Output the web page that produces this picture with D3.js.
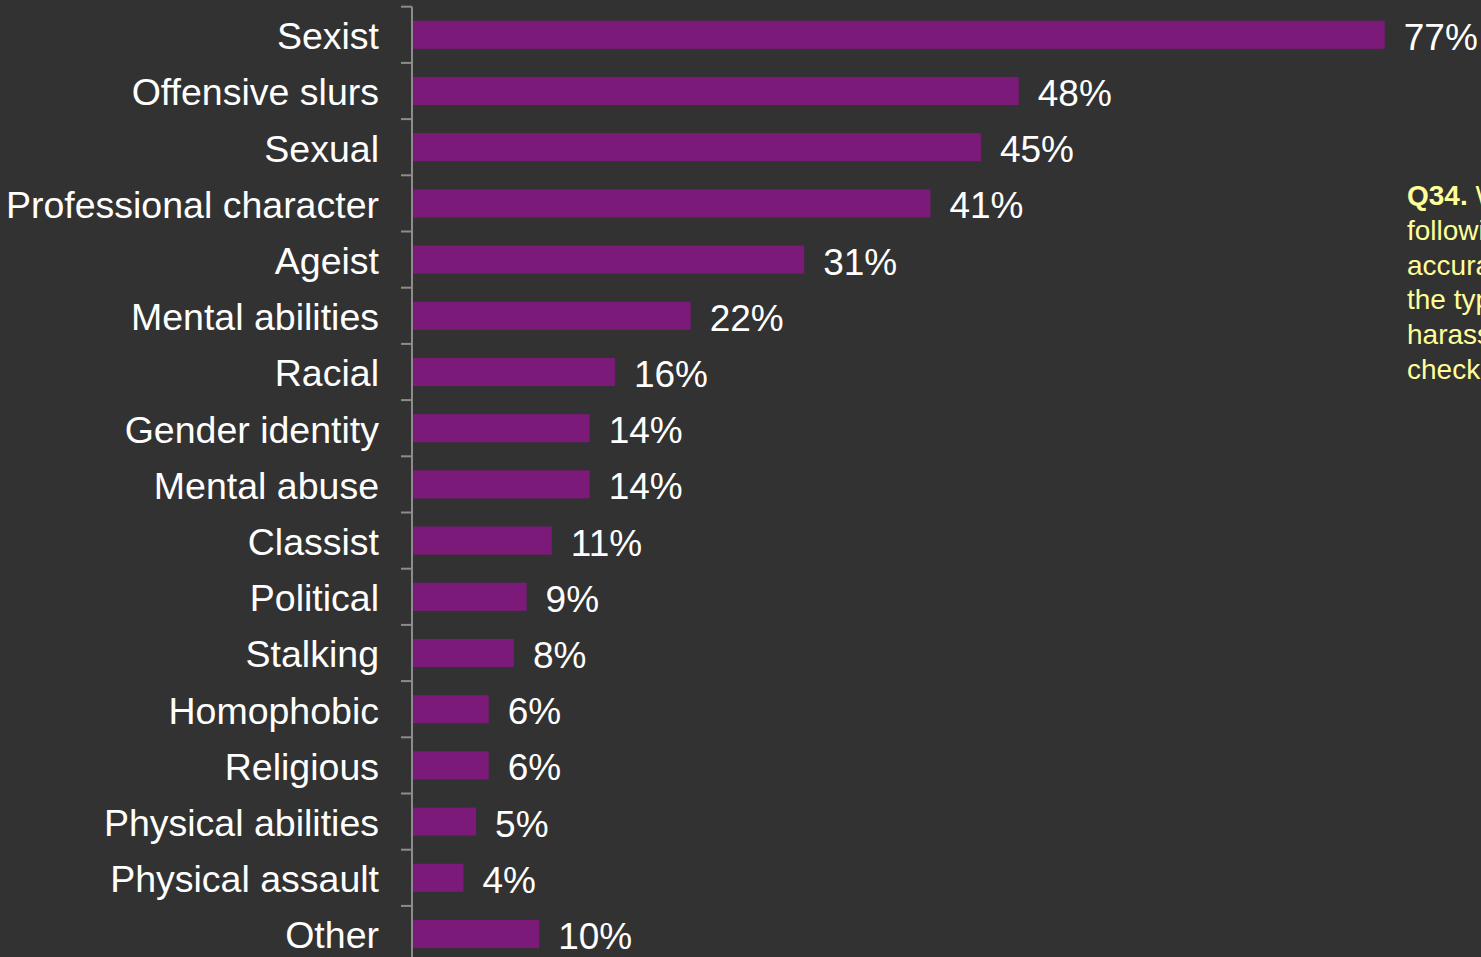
<!DOCTYPE html>
<html>
<head>
<meta charset="utf-8">
<script src="https://cdn.jsdelivr.net/npm/d3@7"></script>
<style>
  html, body { margin: 0; padding: 0; background: #323232; overflow: hidden; }
  svg { display: block; }
</style>
</head>
<body>
<svg id="chart" width="1481" height="957"></svg>
<script>
// Types of harassment reported (share of respondents)
const categories = [
  "Sexist", "Offensive slurs", "Sexual", "Professional character", "Ageist",
  "Mental abilities", "Racial", "Gender identity", "Mental abuse", "Classist",
  "Political", "Stalking", "Homophobic", "Religious", "Physical abilities",
  "Physical assault", "Other"
];
const values = [77, 48, 45, 41, 31, 22, 16, 14, 14, 11, 9, 8, 6, 6, 5, 4, 10];
const valueLabels = values.map(v => v + "%");
const questionLines = [
  { text: "Q34.", bold: true, rest: " Which of the" },
  { text: "following most" },
  { text: "accurately describes" },
  { text: "the type of" },
  { text: "harassment? (Please" },
  { text: "check all that apply)" }
];

const W = 1481, H = 957;
const svg = d3.select("#chart");
const font = "'Liberation Sans', Arial, sans-serif";

const axisX = 412;
const x = d3.scaleLinear().domain([0, 100]).range([axisX + 1, axisX + 1 + 1262]);
const y = d3.scaleBand().domain(categories)
  .range([6.7, 6.7 + 56.2 * categories.length])
  .paddingInner(0.5).paddingOuter(0.25);

// Bars
svg.append("g").selectAll("rect").data(categories).join("rect")
  .attr("x", x(0))
  .attr("y", d => y(d))
  .attr("width", (d, i) => x(values[i]) - x(0))
  .attr("height", y.bandwidth())
  .attr("fill", "#7b1a78");

// Category axis: line with ticks at band boundaries
const axisG = svg.append("g").attr("stroke", "#8c8c8c").attr("stroke-width", 2);
axisG.append("line")
  .attr("x1", axisX).attr("x2", axisX)
  .attr("y1", y.range()[0]).attr("y2", H + 5);
const half = y.step() * y.paddingInner() / 2;
const boundaries = categories.map(d => y(d) - half).concat([y(categories[categories.length - 1]) + y.bandwidth() + half]);
axisG.selectAll("line.tick").data(boundaries).join("line")
  .attr("class", "tick")
  .attr("x1", axisX - 11).attr("x2", axisX)
  .attr("y1", d => d).attr("y2", d => d);

// Category labels
svg.append("g").selectAll("text").data(categories).join("text")
  .attr("x", 379)
  .attr("y", d => y(d) + y.bandwidth() / 2 + 14.3)
  .attr("text-anchor", "end")
  .attr("fill", "#ffffff")
  .style("font-family", font)
  .style("font-size", "37.5px")
  .text(d => d);

// Value labels
svg.append("g").selectAll("text").data(categories).join("text")
  .attr("x", (d, i) => x(values[i]) + 19)
  .attr("y", d => y(d) + y.bandwidth() / 2 + 15)
  .attr("fill", "#ffffff")
  .style("font-family", font)
  .style("font-size", "37px")
  .text((d, i) => valueLabels[i]);

// Question note on the right (runs past the right edge)
const note = svg.append("text")
  .attr("fill", "#ffff99")
  .style("font-family", font)
  .style("font-size", "28px");
questionLines.forEach((l, i) => {
  note.append("tspan")
    .attr("x", 1407)
    .attr("y", 205 + i * 34.8)
    .style("font-weight", l.bold ? "bold" : "normal")
    .text(l.text);
  if (l.rest) note.append("tspan").style("font-weight", "normal").text(l.rest);
});
</script>
</body>
</html>
